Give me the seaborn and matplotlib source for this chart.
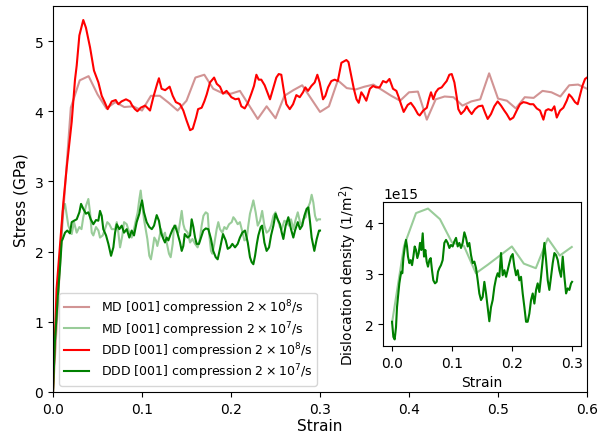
import numpy as np
import matplotlib
matplotlib.use("Agg")
import matplotlib.pyplot as plt
import seaborn as sns

# ---- stress-strain: MD, strain rate 2e8/s ----
md8_strain = [0.00, 0.01, 0.02, 0.03, 0.04, 0.05, 0.06, 0.07, 0.08, 0.09, 0.10,
              0.11, 0.12, 0.13, 0.14, 0.15, 0.16, 0.17, 0.18, 0.19, 0.20, 0.21,
              0.22, 0.23, 0.24, 0.25, 0.26, 0.27, 0.28, 0.29, 0.30, 0.31, 0.32,
              0.33, 0.34, 0.35, 0.36, 0.37, 0.38, 0.39, 0.40, 0.41, 0.42, 0.43,
              0.44, 0.45, 0.46, 0.47, 0.48, 0.49, 0.50, 0.51, 0.52, 0.53, 0.54,
              0.55, 0.56, 0.57, 0.58, 0.59, 0.60]
md8_stress = [0.00, 2.30, 4.05, 4.44, 4.50, 4.24, 4.04, 4.13, 4.06, 4.07, 4.01,
              4.22, 4.22, 4.12, 4.01, 4.15, 4.48, 4.52, 4.32, 4.26, 4.25, 4.29,
              4.09, 3.89, 4.07, 3.90, 4.22, 4.30, 4.37, 4.18, 3.99, 4.07, 4.44,
              4.33, 4.31, 4.35, 4.38, 4.30, 4.22, 4.15, 4.27, 4.28, 3.88, 4.17,
              4.21, 4.20, 4.08, 4.14, 4.17, 4.54, 4.18, 4.15, 4.04, 4.20, 4.19,
              4.29, 4.27, 4.21, 4.37, 4.38, 4.32]

# ---- stress-strain: MD, strain rate 2e7/s ----
md7_strain = [0.000, 0.002, 0.006, 0.0109, 0.0135, 0.0172, 0.021, 0.0236, 0.0266,
              0.0296, 0.032, 0.034, 0.037, 0.0397, 0.0416, 0.0435, 0.0453, 0.0483,
              0.051, 0.0528, 0.0558, 0.0584, 0.061, 0.0633, 0.066, 0.0697, 0.0716,
              0.0734, 0.0753, 0.0779, 0.0798, 0.0828, 0.0857, 0.0884, 0.091, 0.0933,
              0.0951, 0.097, 0.0985, 0.1004, 0.1022, 0.1041, 0.106, 0.1082, 0.110,
              0.112, 0.1138, 0.1157, 0.1172, 0.1194, 0.1213, 0.124, 0.1258, 0.1277,
              0.1303, 0.1322, 0.1345, 0.136, 0.138, 0.1408, 0.1427, 0.1446, 0.1464,
              0.148, 0.1513, 0.154, 0.1566, 0.1596, 0.1625, 0.165, 0.167, 0.169,
              0.1716, 0.1738, 0.1753, 0.1775, 0.179, 0.1812, 0.1839, 0.1857, 0.1876,
              0.1902, 0.1925, 0.195, 0.1978, 0.2008, 0.2026, 0.2045, 0.2075, 0.210,
              0.212, 0.215, 0.2176, 0.2194, 0.2213, 0.2232, 0.2251, 0.2277, 0.230,
              0.2326, 0.235, 0.2375, 0.240, 0.2427, 0.245, 0.2476, 0.250, 0.2524,
              0.255, 0.257, 0.2599, 0.2626, 0.265, 0.2674, 0.270, 0.2727, 0.275,
              0.2775, 0.2794, 0.281, 0.2839, 0.286, 0.2888, 0.2906, 0.2925, 0.2944,
              0.2963, 0.298, 0.300]
md7_stress = [0.00, 0.70, 1.50, 2.58, 2.68, 2.37, 2.25, 2.42, 2.27,
              2.35, 2.32, 2.49, 2.65, 2.75, 2.56, 2.27, 2.23, 2.35,
              2.30, 2.20, 2.23, 2.32, 2.42, 2.39, 2.32, 2.32, 2.42,
              2.27, 2.06, 2.23, 2.42, 2.39, 2.27, 2.20, 2.32, 2.46,
              2.56, 2.75, 2.87, 2.65, 2.46, 2.32, 2.18, 1.94, 1.89,
              2.04, 2.20, 2.16, 2.08, 2.20, 2.32, 2.20, 2.27, 2.13,
              1.97, 1.92, 2.11, 2.37, 2.37, 2.27, 2.42, 2.58, 2.39,
              2.32, 2.27, 2.13, 2.18, 2.11, 2.06, 2.18, 2.37, 2.51,
              2.56, 2.54, 2.27, 2.01, 1.97, 2.11, 2.32, 2.42, 2.32,
              2.27, 2.35, 2.32, 2.39, 2.42, 2.49, 2.46, 2.39, 2.42,
              2.32, 2.16, 2.18, 2.37, 2.54, 2.63, 2.73, 2.56, 2.37,
              2.44, 2.58, 2.37, 2.27, 2.30, 2.37, 2.51, 2.56, 2.46,
              2.35, 2.32, 2.44, 2.42, 2.37, 2.46, 2.32, 2.46, 2.56,
              2.42, 2.37, 2.46, 2.49, 2.61, 2.70, 2.81, 2.70, 2.51,
              2.44, 2.46, 2.46]

# ---- stress-strain: DDD, strain rate 2e8/s ----
ddd8_strain = [0.000, 0.004, 0.0116, 0.0154, 0.021, 0.0247, 0.0266, 0.0296, 0.034,
               0.037, 0.0416, 0.046, 0.051, 0.0547, 0.058, 0.0614, 0.066, 0.0704,
               0.0734, 0.077, 0.082, 0.0865, 0.089, 0.092, 0.0948, 0.0985, 0.1034,
               0.106, 0.109, 0.1127, 0.117, 0.119, 0.122, 0.126, 0.131, 0.1345,
               0.138, 0.1427, 0.1464, 0.150, 0.154, 0.157, 0.1607, 0.163, 0.167,
               0.170, 0.1727, 0.1764, 0.181, 0.184, 0.1876, 0.191, 0.195, 0.2004,
               0.2049, 0.2086, 0.2116, 0.2154, 0.219, 0.2228, 0.2258, 0.2285, 0.2311,
               0.234, 0.2378, 0.2408, 0.2438, 0.2472, 0.2509, 0.2536, 0.2565, 0.2596,
               0.2622, 0.266, 0.2697, 0.2734, 0.2772, 0.2809, 0.2835, 0.2865, 0.2903,
               0.294, 0.297, 0.2996, 0.3034, 0.306, 0.309, 0.3127, 0.3165, 0.320,
               0.324, 0.3296, 0.332, 0.335, 0.338, 0.341, 0.3435, 0.3464, 0.349,
               0.352, 0.356, 0.3596, 0.363, 0.367, 0.3708, 0.3745, 0.378, 0.382,
               0.3858, 0.3884, 0.391, 0.394, 0.3985, 0.402, 0.406, 0.410, 0.412,
               0.416, 0.420, 0.4225, 0.4247, 0.4273, 0.430, 0.433, 0.4367, 0.4397,
               0.4423, 0.4453, 0.448, 0.451, 0.4536, 0.4554, 0.4584, 0.4622, 0.4648,
               0.4674, 0.4704, 0.4742, 0.478, 0.4824, 0.4854, 0.4884, 0.4921, 0.4958,
               0.4996, 0.5034, 0.507, 0.5098, 0.5135, 0.5172, 0.521, 0.5247, 0.5284,
               0.5322, 0.536, 0.5397, 0.5435, 0.5472, 0.551, 0.5536, 0.5565, 0.5603,
               0.5633, 0.566, 0.5697, 0.5734, 0.5772, 0.5798, 0.5828, 0.5865, 0.5895,
               0.592, 0.5948, 0.5978, 0.600]
ddd8_stress = [0.00, 1.47, 2.70, 3.20, 3.85, 4.45, 4.65, 5.08, 5.30,
               5.19, 4.91, 4.58, 4.41, 4.22, 4.13, 4.03, 4.14, 4.16,
               4.10, 4.14, 4.17, 4.14, 4.08, 4.03, 4.00, 4.05, 4.08,
               4.05, 4.01, 4.20, 4.39, 4.47, 4.32, 4.30, 4.35, 4.22,
               4.13, 4.10, 4.01, 3.87, 3.73, 3.75, 3.91, 4.03, 4.05,
               4.14, 4.24, 4.41, 4.48, 4.39, 4.35, 4.25, 4.29, 4.20,
               4.17, 4.18, 4.07, 4.04, 4.12, 4.25, 4.36, 4.52, 4.45,
               4.45, 4.37, 4.27, 4.17, 4.32, 4.48, 4.53, 4.52, 4.27,
               4.10, 4.03, 4.10, 4.23, 4.20, 4.27, 4.34, 4.29, 4.36,
               4.41, 4.52, 4.41, 4.17, 4.22, 4.34, 4.43, 4.45, 4.43,
               4.69, 4.73, 4.70, 4.51, 4.32, 4.17, 4.12, 4.27, 4.22,
               4.15, 4.32, 4.36, 4.34, 4.34, 4.43, 4.41, 4.46, 4.32,
               4.29, 4.20, 4.10, 3.99, 4.09, 4.12, 4.05, 3.96, 3.94,
               4.01, 4.05, 4.18, 4.27, 4.17, 4.27, 4.32, 4.34, 4.39,
               4.43, 4.52, 4.53, 4.41, 4.20, 4.03, 3.96, 4.01, 4.07,
               4.01, 3.96, 4.03, 4.07, 4.08, 3.98, 3.89, 3.96, 4.07,
               4.14, 4.08, 4.01, 3.96, 3.88, 3.91, 4.01, 4.10, 4.13,
               4.12, 4.10, 4.10, 4.04, 4.01, 3.88, 4.01, 4.03, 4.01,
               4.07, 3.91, 4.01, 4.05, 4.15, 4.24, 4.20, 4.13, 4.10,
               4.22, 4.36, 4.46, 4.48]

# ---- stress-strain: DDD, strain rate 2e7/s ----
ddd7_strain = [0.000, 0.002, 0.006, 0.008, 0.0098, 0.0109, 0.0135, 0.016, 0.019,
               0.021, 0.0236, 0.0266, 0.0296, 0.0315, 0.034, 0.037, 0.0397, 0.0424,
               0.0453, 0.0483, 0.0509, 0.0528, 0.0547, 0.0565, 0.0596, 0.0622, 0.0652,
               0.0678, 0.0697, 0.0716, 0.0745, 0.0772, 0.0798, 0.0828, 0.0857, 0.0884,
               0.091, 0.094, 0.097, 0.0985, 0.100, 0.1022, 0.1052, 0.1082, 0.111,
               0.1135, 0.1165, 0.119, 0.1213, 0.124, 0.1258, 0.1277, 0.1296, 0.1322,
               0.1345, 0.137, 0.1397, 0.1427, 0.1446, 0.1464, 0.148, 0.1513, 0.154,
               0.1558, 0.1577, 0.1596, 0.1614, 0.164, 0.1663, 0.1689, 0.1716, 0.1745,
               0.1775, 0.180, 0.1828, 0.185, 0.1876, 0.1895, 0.191, 0.194, 0.1963,
               0.1989, 0.2015, 0.2045, 0.2075, 0.210, 0.2127, 0.2157, 0.2188, 0.2213,
               0.2232, 0.2251, 0.227, 0.229, 0.2307, 0.2334, 0.235, 0.2375, 0.240,
               0.2427, 0.245, 0.2476, 0.250, 0.2524, 0.255, 0.257, 0.2588, 0.2614,
               0.2644, 0.2674, 0.270, 0.2719, 0.275, 0.2775, 0.280, 0.2824, 0.285,
               0.2869, 0.2888, 0.2906, 0.2936, 0.2963, 0.2989, 0.300]
ddd7_stress = [0.00, 0.70, 1.47, 1.80, 2.15, 2.18, 2.27, 2.30, 2.26,
               2.42, 2.44, 2.46, 2.56, 2.68, 2.61, 2.54, 2.56, 2.46,
               2.39, 2.45, 2.44, 2.58, 2.51, 2.32, 2.23, 2.11, 1.94,
               2.06, 2.27, 2.39, 2.32, 2.37, 2.27, 2.32, 2.20, 2.30,
               2.23, 2.42, 2.54, 2.65, 2.73, 2.56, 2.42, 2.35, 2.32,
               2.37, 2.52, 2.44, 2.27, 2.18, 2.13, 2.20, 2.16, 2.25,
               2.32, 2.37, 2.27, 2.13, 2.01, 2.08, 2.25, 2.20, 2.23,
               2.46, 2.35, 2.20, 2.11, 2.11, 2.20, 2.30, 2.33, 2.32,
               2.18, 2.01, 1.92, 1.89, 2.04, 2.16, 2.25, 2.16, 2.04,
               2.06, 2.11, 2.06, 2.11, 2.20, 2.27, 2.30, 2.13, 1.92,
               1.85, 1.82, 1.94, 2.11, 2.23, 2.35, 2.37, 2.13, 2.01,
               2.06, 2.23, 2.37, 2.54, 2.46, 2.39, 2.27, 2.18, 2.37,
               2.49, 2.32, 2.20, 2.30, 2.42, 2.32, 2.37, 2.51, 2.61,
               2.63, 2.42, 2.20, 2.01, 2.18, 2.30, 2.30]

# ---- dislocation density (units of 1e15 1/m^2) ----
rho_md_strain = [0.00, 0.02, 0.04, 0.06, 0.08, 0.10, 0.12, 0.14, 0.16, 0.18,
                 0.20, 0.22, 0.24, 0.26, 0.28, 0.30]
rho_md = [2.03, 3.55, 4.20, 4.29, 4.08, 3.62, 3.55, 3.01, 3.18, 3.36,
          3.54, 3.20, 3.11, 3.70, 3.36, 3.53]

rho_ddd_strain = [0.0, 0.0022, 0.0044, 0.0066, 0.0083, 0.0105, 0.0122, 0.0139, 0.0155,
                  0.0172, 0.0189, 0.0211, 0.0233, 0.0250, 0.0266, 0.0289, 0.0311, 0.0334,
                  0.0356, 0.0378, 0.0400, 0.0422, 0.0445, 0.0467, 0.0489, 0.0512, 0.0534,
                  0.0556, 0.0578, 0.0600, 0.0623, 0.0645, 0.0667, 0.0689, 0.0717, 0.0745,
                  0.0767, 0.0790, 0.0817, 0.0845, 0.0873, 0.0901, 0.0929, 0.0957, 0.0984,
                  0.1012, 0.1040, 0.1068, 0.1096, 0.1123, 0.1151, 0.1179, 0.1207, 0.1235,
                  0.1263, 0.1290, 0.1318, 0.1346, 0.1374, 0.1402, 0.1430, 0.1457, 0.1485,
                  0.1513, 0.1541, 0.1569, 0.1596, 0.1624, 0.1652, 0.1680, 0.1708, 0.1736,
                  0.1763, 0.1791, 0.1819, 0.1847, 0.1875, 0.1903, 0.1930, 0.1958, 0.1986,
                  0.2014, 0.2042, 0.2070, 0.2097, 0.2125, 0.2153, 0.2181, 0.2209, 0.2237,
                  0.2264, 0.2292, 0.2320, 0.2348, 0.2376, 0.2404, 0.2431, 0.2459, 0.2487,
                  0.2515, 0.2543, 0.2571, 0.2599, 0.2626, 0.2654, 0.2682, 0.2710, 0.2738,
                  0.2766, 0.2793, 0.2821, 0.2849, 0.2877, 0.2905, 0.2932, 0.2960, 0.2988,
                  0.3005]
rho_ddd = [2.05, 1.75, 1.70, 1.94, 2.34, 2.61, 2.81, 2.94, 3.04,
           3.01, 3.31, 3.51, 3.67, 3.54, 3.34, 3.21, 3.27, 3.17,
           3.34, 3.54, 3.47, 3.31, 3.41, 3.61, 3.47, 3.80, 3.34,
           3.47, 3.24, 3.14, 3.27, 3.31, 3.07, 2.87, 2.81, 2.84,
           3.04, 3.11, 3.17, 3.27, 3.61, 3.67, 3.61, 3.51, 3.57,
           3.54, 3.64, 3.71, 3.54, 3.61, 3.51, 3.61, 3.82, 3.71,
           3.54, 3.61, 3.37, 3.21, 3.24, 3.11, 2.87, 2.61, 2.48,
           2.54, 2.84, 2.61, 2.34, 2.06, 2.34, 2.48, 2.74, 2.91,
           3.01, 2.94, 3.41, 2.97, 3.07, 2.94, 3.07, 3.21, 3.34,
           3.39, 3.14, 2.97, 3.07, 2.87, 2.94, 2.61, 2.34, 2.05,
           2.05, 2.21, 2.48, 2.61, 2.41, 2.68, 2.81, 2.64, 2.94,
           3.27, 3.61, 3.27, 2.87, 2.68, 2.94, 3.21, 3.41, 3.37,
           3.27, 3.07, 2.94, 3.34, 2.94, 2.61, 2.71, 2.68, 2.81,
           2.84]

labels = [r"MD [001] compression $2\times10^{8}$/s",
          r"MD [001] compression $2\times10^{7}$/s",
          r"DDD [001] compression $2\times10^{8}$/s",
          r"DDD [001] compression $2\times10^{7}$/s"]

plt.rcParams["font.family"] = ["DejaVu Sans"]

fig = plt.figure(figsize=(6.08, 4.35), dpi=100)
ax = fig.add_axes([0.0872, 0.0966, 0.8783, 0.8874])

sns.lineplot(x=md8_strain, y=md8_stress, ax=ax, color="brown", alpha=0.5,
             lw=1.5, label=labels[0], estimator=None, sort=False)
sns.lineplot(x=md7_strain, y=md7_stress, ax=ax, color="green", alpha=0.4,
             lw=1.5, label=labels[1], estimator=None, sort=False)
sns.lineplot(x=ddd8_strain, y=ddd8_stress, ax=ax, color="red",
             lw=1.5, label=labels[2], estimator=None, sort=False)
sns.lineplot(x=ddd7_strain, y=ddd7_stress, ax=ax, color="green",
             lw=1.5, label=labels[3], estimator=None, sort=False)

ax.set_xlim(0, 0.6)
ax.set_ylim(0, 5.5)
ax.set_xticks(np.arange(0, 0.61, 0.1))
ax.set_yticks(range(0, 6))
ax.tick_params(labelsize=10)
ax.set_xlabel("Strain", fontsize=11, labelpad=2)
ax.set_ylabel("Stress (GPa)", fontsize=11)
ax.legend(loc="lower left", fontsize=9, labelspacing=0.12, handletextpad=0.9)

# inset: dislocation density
ins = fig.add_axes([0.630, 0.2023, 0.3257, 0.331])
sns.lineplot(x=rho_md_strain, y=np.array(rho_md) * 1e15, ax=ins, color="green",
             alpha=0.4, lw=1.5, estimator=None, sort=False)
sns.lineplot(x=rho_ddd_strain, y=np.array(rho_ddd) * 1e15, ax=ins, color="green",
             lw=1.5, estimator=None, sort=False)
ins.set_xticks([0.0, 0.1, 0.2, 0.3])
ins.set_yticks([2e15, 3e15, 4e15])
ins.tick_params(labelsize=10)
ins.set_xlabel("Strain", fontsize=10)
ins.set_ylabel(r"Dislocation density (1/m$^2$)", fontsize=10)

fig.savefig("out.png", dpi=100)
